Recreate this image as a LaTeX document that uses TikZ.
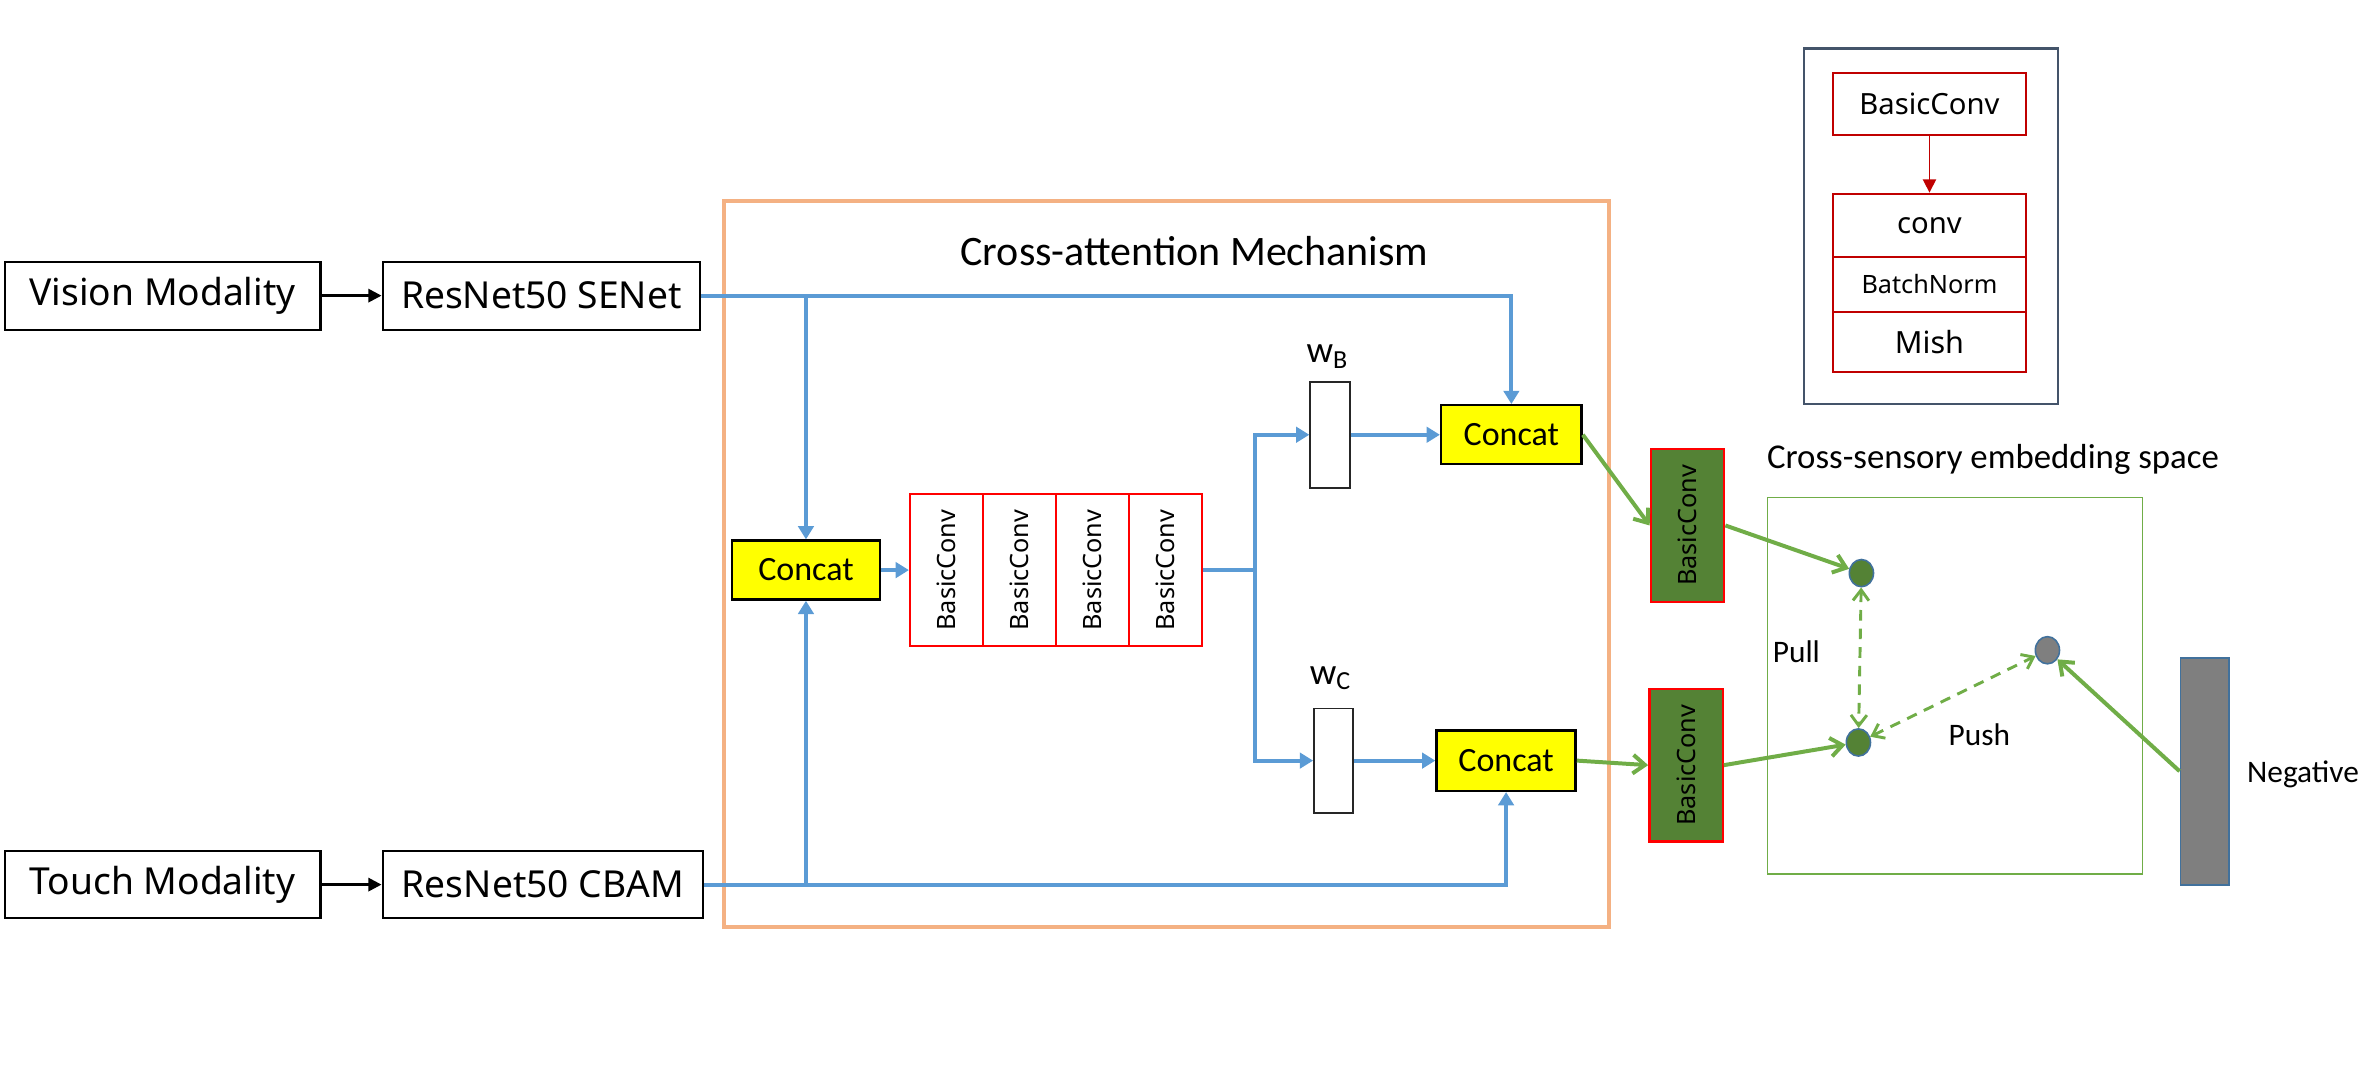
\documentclass[tikz,border=0pt]{standalone}
\usepackage{fontspec}
\usepackage{graphicx}
\setmainfont{Carlito}
\newfontfamily\notosans{Noto Sans}
\usetikzlibrary{arrows.meta,shapes.geometric}
\definecolor{flowblue}{HTML}{5B9BD5}
\definecolor{frameorange}{HTML}{F4B183}
\definecolor{concatyellow}{HTML}{FFFF00}
\definecolor{convred}{HTML}{FF0000}
\definecolor{legendred}{HTML}{C00000}
\definecolor{legendframe}{HTML}{44546A}
\definecolor{embedgreen}{HTML}{70AD47}
\definecolor{darkgreen}{HTML}{548235}
\definecolor{neggrey}{HTML}{7F7F7F}
\definecolor{dotblue}{HTML}{41719C}
\begin{document}
\begin{tikzpicture}[x=0.02cm, y=-0.02cm,
    modbox/.style={draw, line width=0.8pt, inner sep=0pt, minimum width=4.2cm, minimum height=0.9cm,
      font=\notosans\fontsize{14}{16}\selectfont},
    concatbox/.style={draw, fill=concatyellow, line width=0.9pt, inner sep=0pt, minimum width=1.92cm,
      minimum height=0.8cm, font=\fontsize{12.8}{15}\selectfont},
    convcell/.style={draw=convred, line width=0.75pt, inner sep=0pt, minimum width=0.97cm,
      minimum height=2.02cm, font=\notosans\fontsize{9.5}{11}\selectfont},
    greenconv/.style={convcell, fill=darkgreen, line width=0.9pt},
    weightbox/.style={draw=black!85, line width=0.7pt, inner sep=0pt, minimum width=0.52cm, minimum height=1.4cm},
    weightlabel/.style={font=\fontsize{14}{16}\selectfont},
    legendcell/.style={draw=legendred, line width=0.75pt, inner sep=0pt, minimum width=2.56cm,
      font=\notosans\fontsize{11}{13}\selectfont},
    embeddot/.style={ellipse, draw=dotblue, line width=0.6pt, inner sep=0pt, minimum width=0.32cm, minimum height=0.36cm},
    smalltext/.style={font=\fontsize{11.8}{14}\selectfont},
    flow/.style={draw=flowblue, line width=1.5pt},
    flowarrow/.style={flow, -{Triangle[width=5.8pt,length=5pt]}},
    blackarrow/.style={draw=black, line width=1pt, -{Triangle[width=5pt,length=5pt]}},
    greenarrow/.style={draw=embedgreen, line width=1.5pt, -{Straight Barb[width=7pt,length=4.5pt]}},
    greendash/.style={draw=embedgreen, line width=1.1pt, dash pattern=on 4pt off 3pt,
      {Straight Barb[width=6pt,length=4pt]}-{Straight Barb[width=6pt,length=4pt]}}]
  \useasboundingbox (0,0) rectangle (1568,704);
  \draw[frameorange, line width=1.5pt] (479,133) rectangle (1064,613);
  \draw[legendframe, line width=0.9pt] (1193,32) rectangle (1361,267);
  \draw[embedgreen, line width=0.6pt] (1169,329) rectangle (1417,578);
  \path
    (107.5,195.5) node[modbox, minimum width=4.18cm] (vision) {Vision Modality}
    (358,195.5) node[modbox] (senet) {ResNet50 SENet}
    (107.5,585) node[modbox, minimum width=4.18cm, minimum height=0.88cm] (touch) {Touch Modality}
    (359,585) node[modbox, minimum width=4.24cm, minimum height=0.88cm] (cbam) {ResNet50 CBAM};
  \path
    (790,166) node[font=\fontsize{15.8}{19}\selectfont] (camtitle) {Cross-attention Mechanism}
    (533,377) node[concatbox, minimum width=1.96cm, minimum height=0.78cm] (concata) {Concat}
    (626,377) node[convcell] (bc1) {\rotatebox{90}{BasicConv}}
    (674.3,377) node[convcell] (bc2) {\rotatebox{90}{BasicConv}}
    (722.6,377) node[convcell] (bc3) {\rotatebox{90}{BasicConv}}
    (770.9,377) node[convcell] (bc4) {\rotatebox{90}{BasicConv}}
    (879.5,287.5) node[weightbox] (wbbox) {}
    (878,236) node[weightlabel] (wblabel) {w\textsubscript{B}}
    (882,503) node[weightbox, minimum height=1.38cm] (wcbox) {}
    (880,448.5) node[weightlabel] (wclabel) {w\textsubscript{C}}
    (999.5,287.5) node[concatbox, minimum width=1.86cm, minimum height=0.78cm] (concatb) {Concat}
    (996,503) node[concatbox, minimum width=1.84cm] (concatc) {Concat};
  \coordinate (split) at (830,377);
  \path
    (1116,347.5) node[greenconv] (gbc1) {\rotatebox{90}{BasicConv}}
    (1115,506) node[greenconv] (gbc2) {\rotatebox{90}{BasicConv}}
    (1318,304) node[font=\fontsize{13.1}{16}\selectfont] (embedtitle) {Cross-sensory embedding space}
    (1231,379) node[embeddot, fill=darkgreen] (dot1) {}
    (1229,491) node[embeddot, fill=darkgreen] (dot2) {}
    (1354,430) node[embeddot, fill=neggrey] (dotn) {}
    (1188,431) node[smalltext] (pull) {Pull}
    (1309,486) node[smalltext] (push) {Push}
    (1458,510) node[draw=dotblue, fill=neggrey, line width=0.7pt, inner sep=0pt,
      minimum width=0.64cm, minimum height=3cm] (negbar) {}
    (1523,512) node[smalltext] (negative) {Negative};
  \path
    (1276,68.5) node[legendcell, minimum height=0.82cm] (lbasic) {BasicConv}
    (1276,149) node[legendcell, minimum height=0.84cm] (lconv) {conv}
    (1276,188) node[legendcell, minimum height=0.72cm, font=\notosans\fontsize{9.5}{11}\selectfont] (lbn) {BatchNorm}
    (1276,226) node[legendcell, minimum height=0.8cm, font=\notosans\fontsize{11.5}{13}\selectfont] (lmish) {Mish};
  \begin{scope}[blackarrow]
    \draw (vision) to (senet);
    \draw (touch) to (cbam);
  \end{scope}
  \begin{scope}[flowarrow]
    \draw (senet.east) -- (concatb.north |- senet.east) -- (concatb.north);
    \draw (concata.north |- senet.east) -- (concata.north);
    \draw (cbam.east) -- (concatc.south |- cbam.east) -- (concatc.south);
    \draw (concata.south |- cbam.east) -- (concata.south);
    \draw (concata) to (bc1);
    \draw (split) |- (wbbox.west);
    \draw (split) |- (wcbox.west);
    \draw (wbbox) to (concatb);
    \draw (wcbox.east) to (concatc.west);
  \end{scope}
  \draw[flow] (bc4.east) -- (split);
  \begin{scope}[greenarrow]
    \draw (concatb.east) to (gbc1.west);
    \draw (concatc.east) to (gbc2.west);
    \draw (gbc1.east) to (dot1);
    \draw (gbc2.east) to (dot2);
    \draw (negbar.west) to (dotn);
  \end{scope}
  \begin{scope}[greendash]
    \draw (dot1) to (dot2);
    \draw (dot2) to (dotn);
  \end{scope}
  \draw[legendred, line width=0.6pt, -{Triangle[width=5pt,length=5pt]}] (lbasic) to (lconv);
\end{tikzpicture}
\end{document}
